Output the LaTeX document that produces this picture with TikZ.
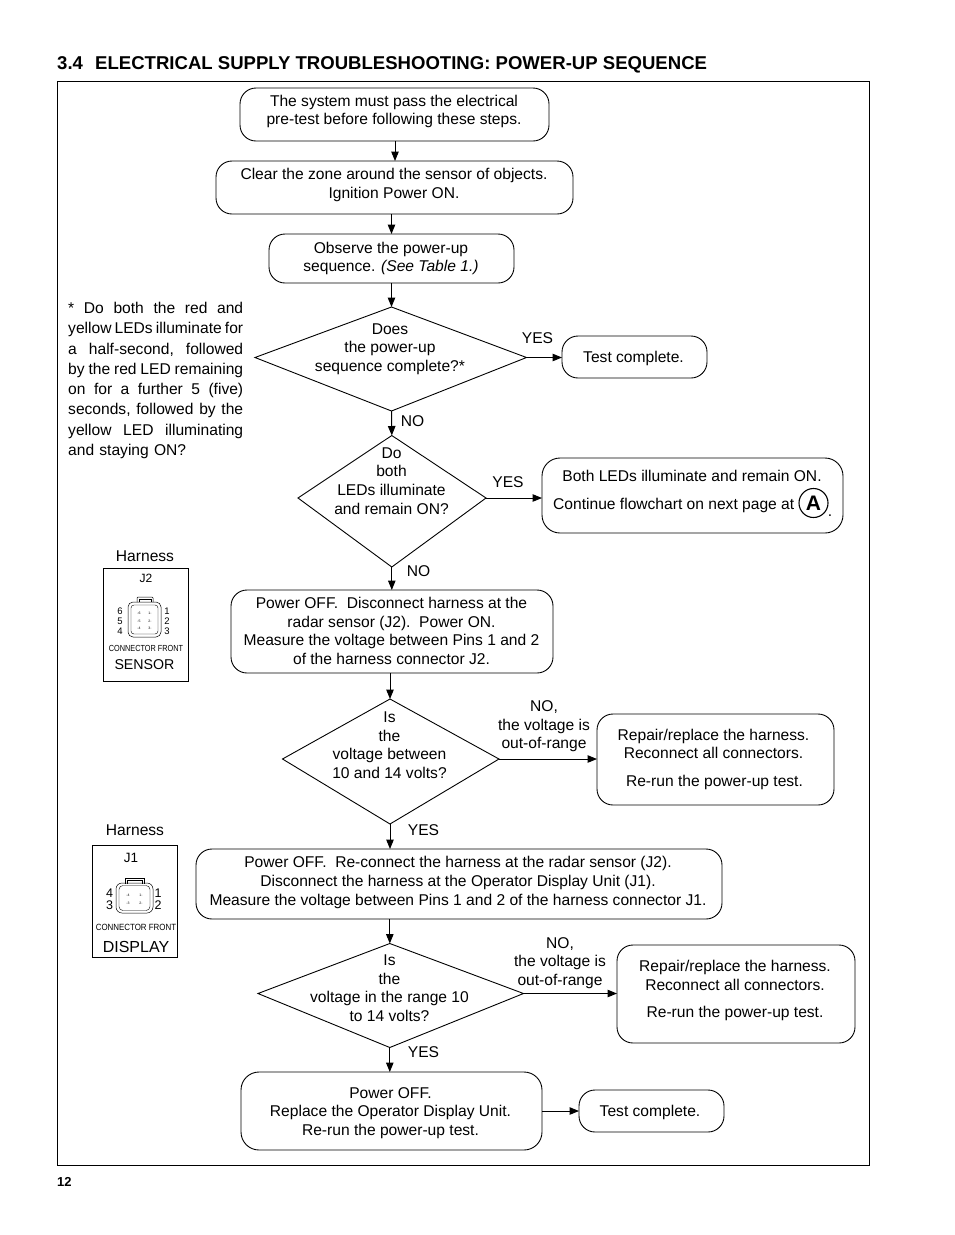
\documentclass[tikz,border=0pt]{standalone}
\usepackage{graphicx}
\usepackage{fontspec}
\setmainfont{Liberation Sans}
\usetikzlibrary{arrows.meta,calc}
\newcommand{\fs}{\fontsize{15.6}{18.6}\selectfont}
\newcommand{\rbox}[6][11]{% corner, name, x1,y1,x2,y2
  \node[boxst,rounded corners=#1pt,minimum width={#5-#3},minimum height={#6-#4}] (#2) at ({(#3+#5)/2},{(#4+#6)/2}) {};}
\newcommand{\dmd}[7]{% name, left, top, right, bottom, xmid, ymid
  \coordinate (#1w) at (#2,#7);
  \coordinate (#1n) at (#6,#3);
  \coordinate (#1e) at (#4,#7);
  \coordinate (#1s) at (#6,#5);
  \draw[dmdst] (#1w) -- (#1n) -- (#1e) -- (#1s) -- cycle;}
\newcommand{\jl}[1]{\leavevmode\hbox to 175pt{\frenchspacing\spaceskip=0pt plus 1fil\relax #1}}
\tikzset{
  x=1pt,y=-1pt,
  boxst/.style={draw,line width=0.9pt,inner sep=0pt,outer sep=0pt,rectangle},
  dmdst/.style={line width=0.9pt,line join=miter},
  txt/.style={font=\fs,align=center,inner sep=0pt,anchor=center},
  lab/.style={font=\fs,inner sep=0pt,anchor=center,align=center},
  arr/.style={line width=1pt,-{Triangle[length=9.5pt,width=7.5pt]}},
  pin/.style={font=\fontsize{9.5}{10}\selectfont,inner sep=0pt},
  pinb/.style={font=\fontsize{12.5}{13}\selectfont,inner sep=0pt},
  tiny/.style={font=\fontsize{3.5}{4}\selectfont,inner sep=0pt},
  ttlst/.style={font=\bfseries\fontsize{18.56}{20}\selectfont,inner sep=0pt,anchor=base west},
}
\begin{document}
\begin{tikzpicture}
\useasboundingbox (0,0) rectangle (954,1235);
\fill[white] (0,0) rectangle (954,1235);
\node[ttlst] (ttlnum) at (57,69) {3.4};
\node[ttlst] (ttl) at (95,69) {ELECTRICAL SUPPLY TROUBLESHOOTING: POWER-UP SEQUENCE};
\node[draw,line width=1pt,inner sep=0pt,minimum width=812pt,minimum height=1084pt] (frame) at (463,623) {};
\node[font=\bfseries\fontsize{13}{15}\selectfont,inner sep=0pt,anchor=west] (pg) at (57,1182) {12};

\rbox[16]{b1}{240}{88}{549}{141}
\node[txt] (b1t) at (394,111.5) {The system must pass the electrical\\pre-test before following these steps.};
\rbox[16]{b2}{216}{161}{573}{214}
\node[txt] (b2t) at (394,185) {Clear the zone around the sensor of objects.\\Ignition Power ON.};
\rbox[16]{b3}{269}{234}{514}{283}
\node[txt] (b3t) at (391,258.5) {Observe the power-up\\sequence. \textit{(See Table 1.)}};
\dmd{d1}{255}{307}{526.5}{411}{391.5}{357.5}
\node[txt] (d1t) at (390,349) {Does\\the power-up\\sequence complete?*};
\rbox[16]{tc1}{562}{336}{707}{378}
\node[txt] (tc1t) at (633.5,358) {Test complete.};
\dmd{d2}{298}{435.5}{486}{567}{391.8}{498}
\node[txt] (d2t) at (391.5,481) {Do\\both\\LEDs illuminate\\and remain ON?};
\rbox[18]{b4}{542}{458}{843}{533}
\node[txt] (b4t) at (692,476) {Both LEDs illuminate and remain ON.};
\node[lab,anchor=west] (b4u) at (553,505) {Continue flowchart on next page at};
\node[draw,circle,line width=1.1pt,minimum size=29pt,inner sep=0pt,font=\bfseries\fontsize{21}{22}\selectfont] (circA) at (813.5,503) {A};
\node[lab] (b4p) at (830,516) {.};
\rbox[16]{b5}{231}{590}{553}{673}
\node[txt] (b5t) at (391.5,631) {Power OFF.\ \ Disconnect harness at the\\radar sensor (J2).\ \ Power ON.\\Measure the voltage between Pins 1 and 2\\of the harness connector J2.};
\dmd{d3}{282.5}{699}{499}{824}{390}{759}
\node[txt] (d3t) at (389.5,745) {Is\\the\\voltage between\\10 and 14 volts?};
\rbox[16]{b6}{597}{714}{834}{805}
\node[txt] (b6t) at (713.5,744) {Repair/replace the harness.\\Reconnect all connectors.};
\node[txt] (b6u) at (714.5,782) {Re-run the power-up test.};
\rbox[16]{b7}{196}{849}{722}{919}
\node[txt] (b7t) at (458,882.5) {Power OFF.\ \ Re-connect the harness at the radar sensor (J2).\\Disconnect the harness at the Operator Display Unit (J1).\\Measure the voltage between Pins 1 and 2 of the harness connector J1.};
\dmd{d4}{258}{943.5}{523.5}{1047.5}{389.8}{993.5}
\node[txt] (d4t) at (389.5,988) {Is\\the\\voltage in the range 10\\to 14 volts?};
\rbox[16]{b8}{617}{945}{855}{1043}
\node[txt] (b8t) at (735,975.5) {Repair/replace the harness.\\Reconnect all connectors.};
\node[txt] (b8u) at (735,1013) {Re-run the power-up test.};
\rbox[18]{b9}{241}{1072}{542}{1150}
\node[txt] (b9t) at (390.5,1113) {Power OFF.\\Replace the Operator Display Unit.\\Re-run the power-up test.};
\rbox[16]{tc2}{579}{1090}{724}{1132}
\node[txt] (tc2t) at (650,1112) {Test complete.};

% connectors
\coordinate (a1) at (395,0);
\draw[arr] (b1.south -| a1) -- (b2.north -| a1);
\draw[arr] (d1n |- b2.south) -- (d1n |- b3.north);
\draw[arr] (d1n |- b3.south) -- (d1n);
\draw[arr] (d1e) -- (tc1.west |- d1e);
\draw[arr] (d1s) -- (d2n);
\draw[arr] (d2e) -- (b4.west |- d2e);
\draw[arr] (d2s) -- (d2s |- b5.north);
\draw[arr] (d3n |- b5.south) -- (d3n);
\draw[arr] (d3e) -- (b6.west |- d3e);
\draw[arr] (d3s) -- (d3s |- b7.north);
\draw[arr] (d4n |- b7.south) -- (d4n);
\draw[arr] (d4e) -- (b8.west |- d4e);
\draw[arr] (d4s) -- (d4s |- b9.north);
\draw[arr] (b9.east) -- (tc2.west);

% connector labels
\node[lab] (l1) at (537.5,338.5) {YES};
\node[lab] (l2) at (412.5,421) {NO};
\node[lab] (l3) at (508,482.5) {YES};
\node[lab] (l4) at (418.5,571) {NO};
\node[lab] (l5) at (544,726.5) {NO,\\the voltage is\\out-of-range};
\node[lab] (l6) at (423.5,830) {YES};
\node[lab] (l7) at (560,963) {NO,\\the voltage is\\out-of-range};
\node[lab] (l8) at (423.5,1052) {YES};

% note
\node[font=\fontsize{15.6}{20.25}\selectfont,inner sep=0pt,anchor=north west,align=left,text width=176pt] (note) at (68,302) {%
\jl{* Do both the red and}\\
\jl{yellow LEDs illuminate for}\\
\jl{a half-second, followed}\\
\jl{by the red LED remaining}\\
\jl{on for a further 5 (five)}\\
\jl{seconds, followed by the}\\
\jl{yellow LED illuminating}\\
and staying ON?};

% J2 sensor legend
\node[lab] (h2) at (145,556) {Harness};
\node[draw,line width=0.9pt,inner sep=0pt,minimum width=85pt,minimum height=113pt] (j2box) at (146,624.5) {};
\node[font=\fontsize{12}{14}\selectfont,inner sep=0pt] (j2) at (146,578.5) {J2};
\draw[line width=0.5pt,rounded corners=1pt] (137,602) -- (137,597) -- (153,597) -- (153,602);
\draw[line width=0.5pt] (139,602) -- (139,599) -- (151,599) -- (151,602);
\node[draw,line width=0.5pt,rounded corners=5pt,inner sep=0pt,minimum width=33pt,minimum height=35pt] (j2body) at (144.5,619.5) {};
\node[draw,line width=0.4pt,rounded corners=3pt,inner sep=0pt,minimum width=27pt,minimum height=29pt] (j2in) at (144.5,619.5) {};
\foreach \n/\yy in {6/613,5/621,4/628}{\node[tiny] at (139,\yy) {-\n};}
\foreach \n/\yy in {1/613,2/621,3/628}{\node[tiny] at (150,\yy) {\n-};}
\node[pin] (p6) at (120,611) {6};
\node[pin] (p5) at (120,621) {5};
\node[pin] (p4) at (120,631) {4};
\node[pin] (p1) at (167,611) {1};
\node[pin] (p2) at (167,621) {2};
\node[pin] (p3) at (167,631) {3};
\node[font=\fontsize{8.8}{9}\selectfont,inner sep=0pt] (cf2) at (146,648.5) {\scalebox{.83}[1]{CONNECTOR FRONT}};
\node[font=\fontsize{14.2}{16}\selectfont,inner sep=0pt] (sens) at (144.5,664.5) {SENSOR};

% J1 display legend
\node[lab] (h1) at (135,830) {Harness};
\node[draw,line width=0.9pt,inner sep=0pt,minimum width=85pt,minimum height=112pt] (j1box) at (135,901.5) {};
\node[font=\fontsize{13.5}{15}\selectfont,inner sep=0pt] (j1) at (131,858) {J1};
\draw[line width=0.5pt] (125,884) -- (125,878) -- (144,878) -- (144,884);
\draw[line width=0.5pt] (127,884) -- (127,880) -- (142,880) -- (142,884);
\node[draw,line width=0.5pt,rounded corners=6pt,inner sep=0pt,minimum width=37pt,minimum height=30pt] (j1body) at (134.5,898) {};
\node[draw,line width=0.4pt,rounded corners=4pt,inner sep=0pt,minimum width=31pt,minimum height=25pt] (j1in) at (134.5,898) {};
\foreach \n/\yy in {4/895,3/903}{\node[tiny] at (128,\yy) {-\n};}
\foreach \n/\yy in {1/895,2/903}{\node[tiny] at (141,\yy) {\n-};}
\node[pinb] (q4) at (109.5,893) {4};
\node[pinb] (q3) at (109.5,905) {3};
\node[pinb] (q1) at (158,893) {1};
\node[pinb] (q2) at (158,905) {2};
\node[font=\fontsize{9}{10}\selectfont,inner sep=0pt] (cf1) at (136,927) {\scalebox{.88}[1]{CONNECTOR FRONT}};
\node[font=\fontsize{16}{18}\selectfont,inner sep=0pt] (disp) at (136,946.5) {DISPLAY};
\end{tikzpicture}
\end{document}
